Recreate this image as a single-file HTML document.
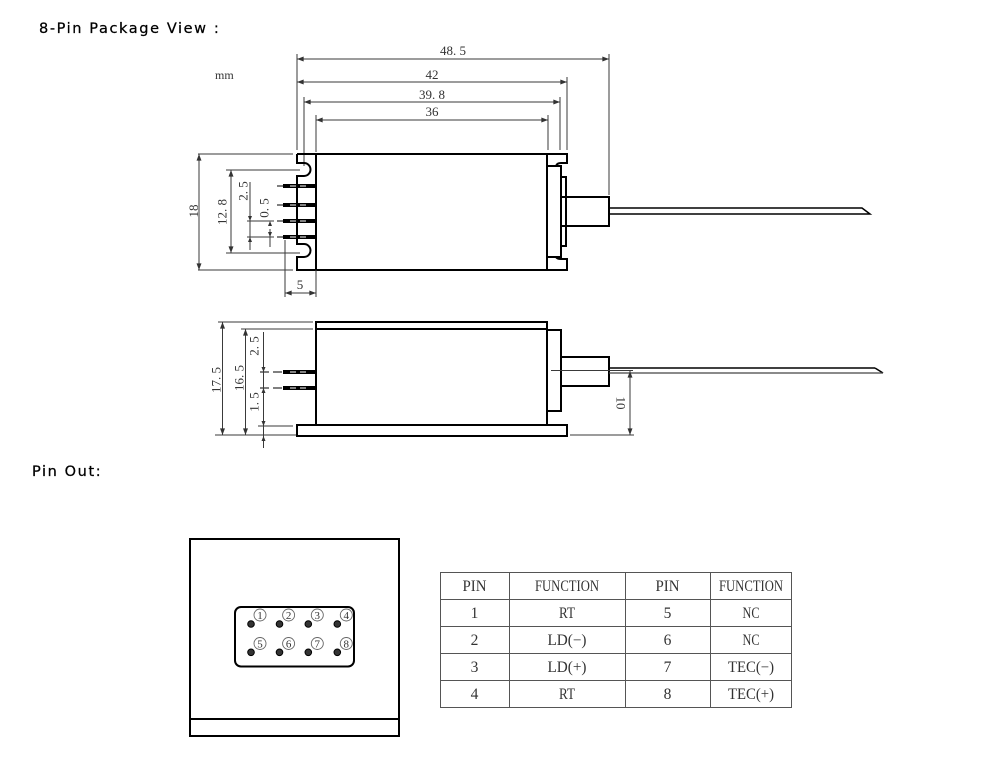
<!DOCTYPE html>
<html><head><meta charset="utf-8"><style>
html,body{margin:0;padding:0;background:#fff;}
svg{display:block;}
.d{stroke:#3a3a3a;stroke-width:1;fill:none;}
.b{stroke:#000;stroke-width:2;fill:none;}
.t{font-family:"Liberation Serif",serif;font-size:13px;fill:#333;}
.tb{font-family:"Liberation Serif",serif;font-size:15.5px;fill:#333;text-anchor:middle;}
.h{font-family:"DejaVu Sans","Liberation Sans",sans-serif;font-size:14.5px;letter-spacing:1.6px;fill:#000;stroke:#000;stroke-width:0.25px;}
.c{font-family:"Liberation Serif",serif;font-size:11px;fill:#333;text-anchor:middle;}
</style></head><body>
<svg width="994" height="758" viewBox="0 0 994 758" xmlns="http://www.w3.org/2000/svg">
<defs>
<marker id="a" viewBox="0 0 8 6" refX="8" refY="3" markerWidth="7" markerHeight="5" orient="auto-start-reverse" markerUnits="userSpaceOnUse"><path d="M0,0 L8,3 L0,6 z" fill="#333"/></marker>
</defs>

<text class="h" x="39" y="33">8-Pin Package View :</text>
<text class="h" x="32" y="476">Pin Out:</text>

<!-- ============ TOP VIEW ============ -->
<text class="t" x="215" y="79" style="font-size:12px">mm</text>

<!-- horizontal dims -->
<line class="d" x1="297" y1="59" x2="609" y2="59" marker-start="url(#a)" marker-end="url(#a)"/>
<text class="t" x="453" y="55" text-anchor="middle">48. 5</text>
<line class="d" x1="297" y1="82" x2="567" y2="82" marker-start="url(#a)" marker-end="url(#a)"/>
<text class="t" x="432" y="79" text-anchor="middle">42</text>
<line class="d" x1="304" y1="102" x2="560" y2="102" marker-start="url(#a)" marker-end="url(#a)"/>
<text class="t" x="432" y="99" text-anchor="middle">39. 8</text>
<line class="d" x1="316" y1="120" x2="548" y2="120" marker-start="url(#a)" marker-end="url(#a)"/>
<text class="t" x="432" y="116" text-anchor="middle">36</text>

<!-- extension lines -->
<line class="d" x1="297" y1="54" x2="297" y2="150"/>
<line class="d" x1="609" y1="54" x2="609" y2="195"/>
<line class="d" x1="567" y1="77" x2="567" y2="150"/>
<line class="d" x1="304" y1="97" x2="304" y2="166"/>
<line class="d" x1="560" y1="97" x2="560" y2="150"/>
<line class="d" x1="316" y1="115" x2="316" y2="152"/>
<line class="d" x1="548" y1="115" x2="548" y2="150"/>

<!-- body top view -->
<path class="b" d="M297,154 H567 V163 H561 Q557,163 556,166"/>
<path class="b" d="M297,154 V163 H304 A6.5,6.5 0 0 1 304,176 H297 V244 H304 A6.5,6.5 0 0 1 304,257 H297 V270 H567 V259 H561 Q557,259 556,257"/>
<line class="b" x1="316" y1="154" x2="316" y2="270"/>
<line class="b" x1="547" y1="154" x2="547" y2="270"/>
<rect class="b" x="547" y="166" width="14" height="91"/>
<rect class="b" x="561" y="177" width="5" height="69"/>
<rect class="b" x="561" y="197" width="48" height="29"/>
<path d="M609,208 H862 L870,214 H609" stroke="#000" stroke-width="1.5" fill="none"/>

<!-- pins top view -->
<g>
<line x1="277" y1="186" x2="284" y2="186" stroke="#000" stroke-width="1"/>
<line x1="283" y1="186" x2="316" y2="186" stroke="#000" stroke-width="4"/>
<line x1="277" y1="205" x2="284" y2="205" stroke="#000" stroke-width="1"/>
<line x1="283" y1="205" x2="316" y2="205" stroke="#000" stroke-width="4"/>
<line x1="277" y1="221" x2="284" y2="221" stroke="#000" stroke-width="1"/>
<line x1="283" y1="221" x2="316" y2="221" stroke="#000" stroke-width="4"/>
<line x1="277" y1="237" x2="284" y2="237" stroke="#000" stroke-width="1"/>
<line x1="283" y1="237" x2="316" y2="237" stroke="#000" stroke-width="4"/>
<g stroke="#fff" stroke-width="1">
<line x1="290" y1="186" x2="296" y2="186"/><line x1="300" y1="186" x2="306" y2="186"/>
<line x1="290" y1="205" x2="296" y2="205"/><line x1="300" y1="205" x2="306" y2="205"/>
<line x1="290" y1="221" x2="296" y2="221"/><line x1="300" y1="221" x2="306" y2="221"/>
<line x1="290" y1="237" x2="296" y2="237"/><line x1="300" y1="237" x2="306" y2="237"/>
</g>
</g>

<!-- vertical dims top view -->
<line class="d" x1="198" y1="154" x2="293" y2="154"/>
<line class="d" x1="198" y1="270" x2="293" y2="270"/>
<line class="d" x1="199" y1="154" x2="199" y2="270" marker-start="url(#a)" marker-end="url(#a)"/>
<text class="t" transform="translate(193.5,211) rotate(-90)" text-anchor="middle" dominant-baseline="central">18</text>

<line class="d" x1="226" y1="170" x2="300" y2="170"/>
<line class="d" x1="226" y1="253" x2="300" y2="253"/>
<line class="d" x1="231" y1="170" x2="231" y2="253" marker-start="url(#a)" marker-end="url(#a)"/>
<text class="t" transform="translate(222,212) rotate(-90)" text-anchor="middle" dominant-baseline="central">12. 8</text>

<line class="d" x1="250" y1="182" x2="250" y2="250"/>
<path d="M248,216 L250,221 L252,216 z M248,242 L250,237 L252,242 z" fill="#333"/>
<text class="t" transform="translate(243,191) rotate(-90)" text-anchor="middle" dominant-baseline="central">2. 5</text>
<line class="d" x1="247" y1="221" x2="274" y2="221"/>
<line class="d" x1="247" y1="237" x2="274" y2="237"/>
<line class="d" x1="270" y1="229" x2="270" y2="247"/>
<path d="M268,232 L270,237 L272,232 z M268,226 L270,221 L272,226 z" fill="#333"/>
<text class="t" transform="translate(264,208) rotate(-90)" text-anchor="middle" dominant-baseline="central">0. 5</text>

<line class="d" x1="285" y1="240" x2="285" y2="297"/>
<line class="d" x1="316" y1="270" x2="316" y2="297"/>
<line class="d" x1="285" y1="293" x2="316" y2="293" marker-start="url(#a)" marker-end="url(#a)"/>
<text class="t" x="300" y="289" text-anchor="middle">5</text>

<!-- ============ SIDE VIEW ============ -->
<path class="b" d="M316,322 H547 V329 H316 Z"/>
<line class="b" x1="316" y1="322" x2="316" y2="425"/>
<line class="b" x1="547" y1="322" x2="547" y2="425"/>
<rect class="b" x="297" y="425" width="270" height="11"/>
<rect class="b" x="547" y="330" width="14" height="81"/>
<rect class="b" x="561" y="357" width="48" height="29"/>
<line x1="609" y1="368" x2="875" y2="368" stroke="#000" stroke-width="1.5"/>
<line x1="875" y1="368" x2="883" y2="373" stroke="#000" stroke-width="1.5"/>
<line x1="609" y1="373" x2="883" y2="373" stroke="#444" stroke-width="1.2"/>
<line class="d" x1="551" y1="370.5" x2="633" y2="370.5"/>

<!-- 10 dim -->
<line class="d" x1="570" y1="435" x2="634" y2="435"/>
<line class="d" x1="630" y1="371" x2="630" y2="435" marker-start="url(#a)" marker-end="url(#a)"/>
<text class="t" transform="translate(621,403) rotate(90)" text-anchor="middle" dominant-baseline="central">10</text>

<!-- pins side -->
<line x1="260" y1="372" x2="283" y2="372" stroke="#000" stroke-width="1" stroke-dasharray="9,4"/>
<line x1="260" y1="388" x2="283" y2="388" stroke="#000" stroke-width="1" stroke-dasharray="9,4"/>
<line x1="283" y1="372" x2="316" y2="372" stroke="#000" stroke-width="4"/>
<line x1="283" y1="388" x2="316" y2="388" stroke="#000" stroke-width="4"/>
<g stroke="#fff" stroke-width="1">
<line x1="290" y1="372" x2="296" y2="372"/><line x1="300" y1="372" x2="306" y2="372"/>
<line x1="290" y1="388" x2="296" y2="388"/><line x1="300" y1="388" x2="306" y2="388"/>
</g>

<!-- side dims -->
<line class="d" x1="218" y1="322" x2="313" y2="322"/>
<line class="d" x1="241" y1="329" x2="313" y2="329"/>
<line class="d" x1="215" y1="435" x2="296" y2="435"/>
<line class="d" x1="258" y1="426" x2="293" y2="426"/>
<line class="d" x1="222.5" y1="322" x2="222.5" y2="435" marker-start="url(#a)" marker-end="url(#a)"/>
<text class="t" transform="translate(216,380) rotate(-90)" text-anchor="middle" dominant-baseline="central">17. 5</text>
<line class="d" x1="245.5" y1="329" x2="245.5" y2="435" marker-start="url(#a)" marker-end="url(#a)"/>
<text class="t" transform="translate(239,378) rotate(-90)" text-anchor="middle" dominant-baseline="central">16. 5</text>
<line class="d" x1="263.5" y1="332" x2="263.5" y2="448"/>
<path d="M261.5,367 L263.5,372 L265.5,367 z M261.5,393 L263.5,388 L265.5,393 z M261.5,421 L263.5,426 L265.5,421 z M261.5,441 L263.5,436 L265.5,441 z" fill="#333"/>
<text class="t" transform="translate(254,346) rotate(-90)" text-anchor="middle" dominant-baseline="central">2. 5</text>
<text class="t" transform="translate(254,402) rotate(-90)" text-anchor="middle" dominant-baseline="central">1. 5</text>

<!-- ============ PIN OUT ============ -->
<rect x="190" y="539" width="209" height="197" stroke="#000" stroke-width="2" fill="none"/>
<line x1="190" y1="719" x2="399" y2="719" stroke="#000" stroke-width="2"/>
<rect x="235" y="607" width="119" height="59.5" rx="6" ry="6" stroke="#000" stroke-width="2" fill="none"/>
<g fill="#333" stroke="#000" stroke-width="1">
<circle cx="251" cy="624" r="3.3"/><circle cx="279.5" cy="624" r="3.3"/><circle cx="308.3" cy="624" r="3.3"/><circle cx="337.3" cy="624" r="3.3"/>
<circle cx="251" cy="652.3" r="3.3"/><circle cx="279.5" cy="652.3" r="3.3"/><circle cx="308.3" cy="652.3" r="3.3"/><circle cx="337.3" cy="652.3" r="3.3"/>
</g>
<g fill="#fff" stroke="#666" stroke-width="0.9">
<circle cx="260" cy="615" r="6"/><circle cx="288.6" cy="615" r="6"/><circle cx="317.3" cy="615" r="6"/><circle cx="346.3" cy="615" r="6"/>
<circle cx="260" cy="643.5" r="6"/><circle cx="288.6" cy="643.5" r="6"/><circle cx="317.3" cy="643.5" r="6"/><circle cx="346.3" cy="643.5" r="6"/>
</g>
<g class="c">
<text x="260" y="619">1</text><text x="288.6" y="619">2</text><text x="317.3" y="619">3</text><text x="346.3" y="619">4</text>
<text x="260" y="647.5">5</text><text x="288.6" y="647.5">6</text><text x="317.3" y="647.5">7</text><text x="346.3" y="647.5">8</text>
</g>

<!-- table -->
<g stroke="#555" stroke-width="1" fill="none">
<rect x="440.5" y="572.5" width="351" height="135"/>
<line x1="440.5" y1="599.5" x2="791.5" y2="599.5"/>
<line x1="440.5" y1="626.5" x2="791.5" y2="626.5"/>
<line x1="440.5" y1="653.5" x2="791.5" y2="653.5"/>
<line x1="440.5" y1="680.5" x2="791.5" y2="680.5"/>
<line x1="509.5" y1="572.5" x2="509.5" y2="707.5"/>
<line x1="625.5" y1="572.5" x2="625.5" y2="707.5"/>
<line x1="710.5" y1="572.5" x2="710.5" y2="707.5"/>
</g>
<g class="tb">
<text x="474.5" y="591" textLength="24" lengthAdjust="spacingAndGlyphs">PIN</text>
<text x="567" y="591" textLength="64" lengthAdjust="spacingAndGlyphs">FUNCTION</text>
<text x="667.5" y="591" textLength="24" lengthAdjust="spacingAndGlyphs">PIN</text>
<text x="751" y="591" textLength="64" lengthAdjust="spacingAndGlyphs">FUNCTION</text>

<text x="474.5" y="618">1</text>
<text x="567" y="618" textLength="16" lengthAdjust="spacingAndGlyphs">RT</text>
<text x="667.5" y="618">5</text>
<text x="751" y="618" textLength="17" lengthAdjust="spacingAndGlyphs">NC</text>

<text x="474.5" y="645">2</text>
<text x="567" y="645" textLength="39" lengthAdjust="spacingAndGlyphs">LD(−)</text>
<text x="667.5" y="645">6</text>
<text x="751" y="645" textLength="17" lengthAdjust="spacingAndGlyphs">NC</text>

<text x="474.5" y="672">3</text>
<text x="567" y="672" textLength="39" lengthAdjust="spacingAndGlyphs">LD(+)</text>
<text x="667.5" y="672">7</text>
<text x="751" y="672" textLength="46" lengthAdjust="spacingAndGlyphs">TEC(−)</text>

<text x="474.5" y="699">4</text>
<text x="567" y="699" textLength="16" lengthAdjust="spacingAndGlyphs">RT</text>
<text x="667.5" y="699">8</text>
<text x="751" y="699" textLength="46" lengthAdjust="spacingAndGlyphs">TEC(+)</text>
</g>
</svg>
</body></html>
